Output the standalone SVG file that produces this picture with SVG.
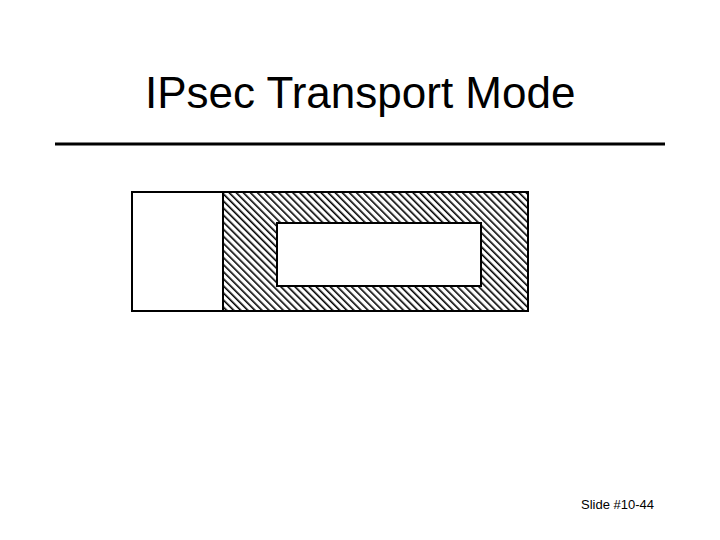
<svg xmlns="http://www.w3.org/2000/svg" width="720" height="540" viewBox="0 0 720 540">
<style>
.t{font-family:"Liberation Sans",Arial,sans-serif;fill:#000}
.box{stroke:#000;stroke-width:2}
</style>
<defs>
<pattern id="hatch" patternUnits="userSpaceOnUse" width="5" height="5" patternTransform="rotate(-45)">
<rect width="5" height="5" fill="#fff"/>
<line x1="0" y1="0" x2="0" y2="5" stroke="#000" stroke-width="3.2"/>
</pattern>
</defs>
<rect width="720" height="540" fill="#fff"/>
<g id="title"><text class="t" x="145" y="108" font-size="44">IPsec Transport Mode</text></g>
<line x1="55" y1="144" x2="665" y2="144" stroke="#000" stroke-width="3"/>
<g id="header"><rect class="box" x="132" y="192" width="91" height="119" fill="#fff"/></g>
<g id="payload"><rect class="box" x="223" y="192" width="305" height="119" fill="url(#hatch)"/></g>
<g id="inner"><rect class="box" x="277" y="223" width="204" height="63" fill="#fff"/></g>
<g id="connectors"/>
<g id="footer"><text class="t" x="581" y="509" font-size="13">Slide #10-44</text></g>
</svg>
